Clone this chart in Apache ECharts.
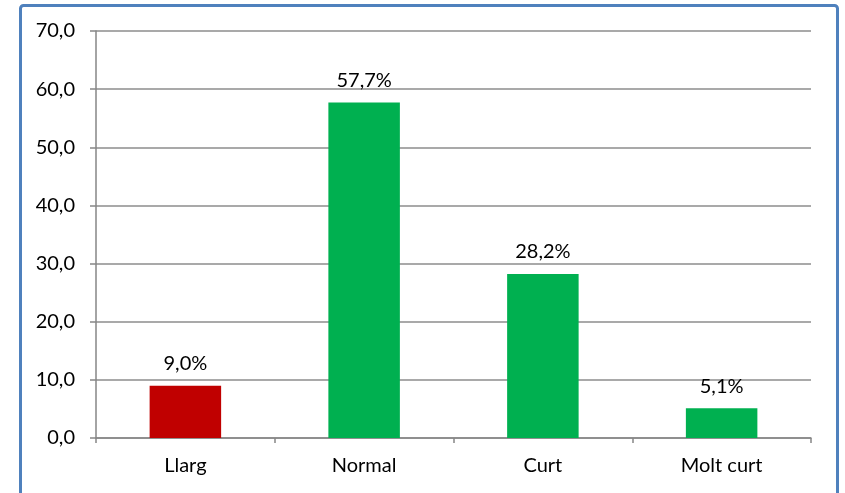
<!DOCTYPE html>
<html><head><meta charset="utf-8">
<script src="https://cdn.jsdelivr.net/npm/echarts@6/dist/echarts.min.js"></script>
<style>html,body{margin:0;padding:0;background:#fff}#c{width:845px;height:493px}</style>
</head><body><div id="c"></div>
<script>
const categories = ['Llarg', 'Normal', 'Curt', 'Molt curt'];
const values = [9.0, 57.7, 28.2, 5.1];
const barColors = ['#C00000', '#00B050', '#00B050', '#00B050'];
const yTicks = [0, 10, 20, 30, 40, 50, 60, 70];

const fmt = v => v.toFixed(1).replace('.', ',');
const FONT = 'Lato, "Open Sans", sans-serif';
const chart = echarts.init(document.getElementById('c'));
chart.setOption({
  animation: false,
  backgroundColor: '#fff',
  textStyle: { fontFamily: FONT },
  graphic: [{
    type: 'rect',
    shape: { x: 20.5, y: 5.5, width: 817, height: 540, r: 3 },
    style: { fill: 'none', stroke: '#4F81BD', lineWidth: 3 },
    z: 100
  }],
  grid: { left: 96, right: 34, top: 31, bottom: 55 },
  xAxis: {
    type: 'category',
    data: categories,
    axisLine: { lineStyle: { color: '#868686', width: 1.5 } },
    axisTick: { show: true, length: 5, lineStyle: { color: '#868686', width: 1.5 } },
    axisLabel: { color: '#000', fontSize: 20, margin: 18, fontFamily: FONT }
  },
  yAxis: {
    type: 'value',
    min: yTicks[0], max: yTicks[yTicks.length - 1], interval: 10,
    axisLine: { show: true, lineStyle: { color: '#868686', width: 1.5 } },
    axisTick: { show: true, length: 6, lineStyle: { color: '#868686', width: 1.5 } },
    splitLine: { lineStyle: { color: '#8c8c8c', width: 1.5 } },
    axisLabel: { color: '#000', fontSize: 20, margin: 21, formatter: v => fmt(v), fontFamily: FONT }
  },
  series: [{
    type: 'bar',
    barWidth: '40%',
    data: values.map((v, i) => ({ value: v, itemStyle: { color: barColors[i] } })),
    label: {
      show: true, position: 'top', distance: 12, color: '#000', fontSize: 20,
      fontFamily: FONT,
      formatter: p => fmt(p.value) + '%'
    }
  }]
});
</script></body></html>
